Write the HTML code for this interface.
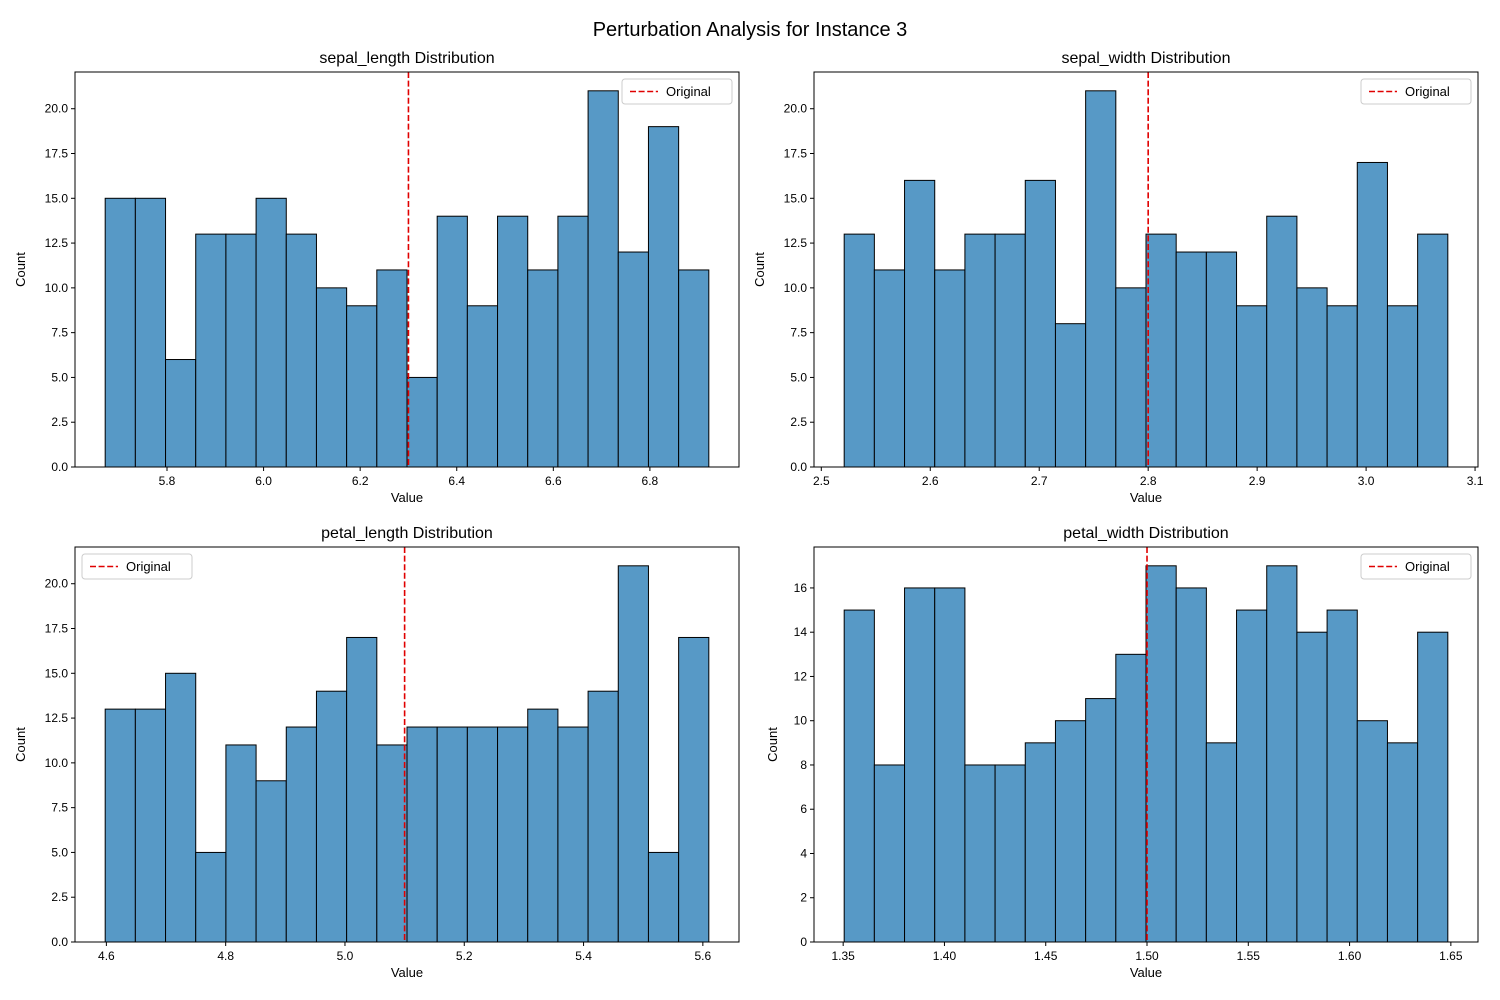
<!DOCTYPE html>
<html><head><meta charset="utf-8">
<style>
html,body{margin:0;padding:0;background:#fff;}
svg{display:block;font-family:"Liberation Sans","DejaVu Sans",sans-serif;}
</style></head>
<body>
<svg id="chart" width="1500" height="1000" viewBox="0 0 1500 1000" xmlns="http://www.w3.org/2000/svg">
<rect width="1500" height="1000" fill="#fff"/>
<text x="750" y="36" font-size="20" text-anchor="middle" fill="#000">Perturbation Analysis for Instance 3</text>
</svg>
<script>
const sepalLengthCounts = [15,15,6,13,13,15,13,10,9,11,5,14,9,14,11,14,21,12,19,11];
const sepalWidthCounts = [13,11,16,11,13,13,16,8,21,10,13,12,12,9,14,10,9,17,9,13];
const petalLengthCounts = [13,13,15,5,11,9,12,14,17,11,12,12,12,12,13,12,14,21,5,17];
const petalWidthCounts = [15,8,16,16,8,8,9,10,11,13,17,16,9,15,17,14,15,10,9,14];
const binStarts = [5.672, 2.521, 4.598, 1.3505];
const binEnds = [6.922, 3.075, 5.61, 1.6485];
const originals = [6.3, 2.8, 5.1, 1.5];
const featureNames = ["sepal_length","sepal_width","petal_length","petal_width"];
const xTicks0 = [5.8,6.0,6.2,6.4,6.6,6.8];
const xTicks1 = [2.5,2.6,2.7,2.8,2.9,3.0,3.1];
const xTicks2 = [4.6,4.8,5.0,5.2,5.4,5.6];
const xTicks3 = [1.35,1.40,1.45,1.50,1.55,1.60,1.65];
const yTicksA = [0,2.5,5,7.5,10,12.5,15,17.5,20];
const yTicksB = [0,2,4,6,8,10,12,14,16];

const NS="http://www.w3.org/2000/svg";
const svg=document.getElementById('chart');
function mk(tag,attrs,parent){const e=document.createElementNS(NS,tag);for(const k in attrs)e.setAttribute(k,attrs[k]);(parent||svg).appendChild(e);return e;}

const panels=[
 {counts:sepalLengthCounts,xt:xTicks0,yt:yTicksA,yd:1,xd:1,x0:75,y0:72,legend:'right',slug:'sepal-length'},
 {counts:sepalWidthCounts,xt:xTicks1,yt:yTicksA,yd:1,xd:1,x0:814,y0:72,legend:'right',slug:'sepal-width'},
 {counts:petalLengthCounts,xt:xTicks2,yt:yTicksA,yd:1,xd:1,x0:75,y0:547,legend:'left',slug:'petal-length'},
 {counts:petalWidthCounts,xt:xTicks3,yt:yTicksB,yd:0,xd:2,x0:814,y0:547,legend:'right',slug:'petal-width'}
];
const W=664,H=395;
panels.forEach((p,i)=>{
  const g=mk('g',{});
  
  
  const bs=binStarts[i],be=binEnds[i],n=p.counts.length,bw=(be-bs)/n;
  const m=(be-bs)*0.05, xmin=bs-m, xmax=be+m;
  const ymax=Math.max(...p.counts)*1.05;
  const sx=v=>p.x0+(v-xmin)/(xmax-xmin)*W;
  const sy=v=>p.y0+H-v/ymax*H;
  p.counts.forEach((c,j)=>{
    const x1=sx(bs+j*bw),x2=sx(bs+(j+1)*bw);
    const r=mk('rect',{x:x1,y:sy(c),width:x2-x1,height:sy(0)-sy(c),fill:'#5799c6',stroke:'#000','stroke-width':1},g);
    
    
  });
  const ox=sx(originals[i]);
  const l=mk('line',{x1:ox,x2:ox,y1:p.y0,y2:p.y0+H,stroke:'#e00000','stroke-width':1.6,'stroke-dasharray':'6,2.6'},g);
  
  
  const fr=mk('rect',{x:p.x0,y:p.y0,width:W,height:H,fill:'none',stroke:'#000','stroke-width':1},g);
  
  
  p.xt.forEach(t=>{
    const x=sx(t);
    mk('line',{x1:x,x2:x,y1:p.y0+H,y2:p.y0+H+4,stroke:'#000'},g);
    const tx=mk('text',{x:x,y:p.y0+H+18,'font-size':12,'text-anchor':'middle'},g);
    tx.textContent=t.toFixed(p.xd);
    
    
  });
  p.yt.forEach(t=>{
    const y=sy(t);
    mk('line',{x1:p.x0-4,x2:p.x0,y1:y,y2:y,stroke:'#000'},g);
    const tx=mk('text',{x:p.x0-7,y:y+4,'font-size':12,'text-anchor':'end'},g);
    tx.textContent=t.toFixed(p.yd);
    
    
  });
  const tt=mk('text',{x:p.x0+W/2,y:p.y0-9,'font-size':16,'text-anchor':'middle'},g);
  tt.textContent=featureNames[i]+' Distribution';
  
  
  const xl=mk('text',{x:p.x0+W/2,y:p.y0+H+35,'font-size':13,'text-anchor':'middle'},g);
  xl.textContent='Value';
  
  
  const ylx=p.yd===0?p.x0-37:p.x0-50;
  const yl=mk('text',{x:ylx,y:p.y0+H/2,'font-size':13,'text-anchor':'middle',transform:'rotate(-90 '+ylx+' '+(p.y0+H/2)+')'},g);
  yl.textContent='Count';
  
  
  const lw=110, lx=p.legend==='right'?p.x0+W-7-lw:p.x0+7, ly=p.y0+7;
  const lg=mk('g',{},g);
  
  
  mk('rect',{x:lx,y:ly,width:lw,height:25,rx:3,fill:'#fff',stroke:'#ccc'},lg);
  mk('line',{x1:lx+8,x2:lx+36,y1:ly+12.5,y2:ly+12.5,stroke:'#e00000','stroke-width':1.6,'stroke-dasharray':'6,2.6'},lg);
  const lt=mk('text',{x:lx+44,y:ly+17,'font-size':13},lg);
  lt.textContent='Original';
  
  
});
</script>
</body></html>
